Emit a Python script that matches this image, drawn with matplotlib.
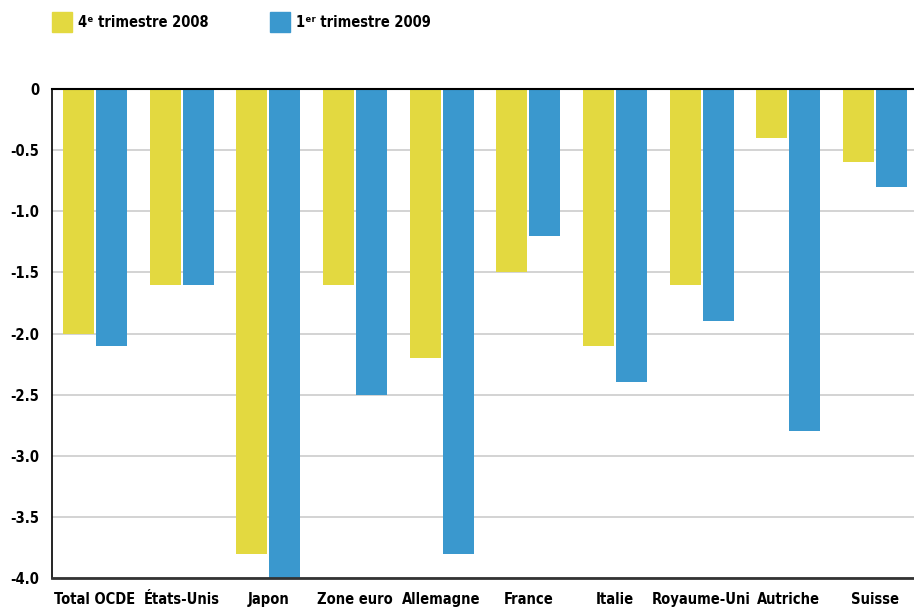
import numpy as np
import matplotlib.pyplot as plt
from matplotlib.patches import Patch

plt.rcParams['font.family'] = ['DejaVu Sans']
plt.rcParams['font.stretch'] = 'condensed'
plt.rcParams['font.weight'] = 'bold'

# données
pays = ['Total OCDE', 'États-Unis', 'Japon', 'Zone euro', 'Allemagne',
        'France', 'Italie', 'Royaume-Uni', 'Autriche', 'Suisse']
t4_2008 = [-2.0, -1.6, -3.8, -1.6, -2.2, -1.5, -2.1, -1.6, -0.4, -0.6]
t1_2009 = [-2.1, -1.6, -4.0, -2.5, -3.8, -1.2, -2.4, -1.9, -2.8, -0.8]
y_ticks = [0, -0.5, -1.0, -1.5, -2.0, -2.5, -3.0, -3.5, -4.0]
y_labels = ['0', '-0.5', '-1.0', '-1.5', '-2.0', '-2.5', '-3.0', '-3.5', '-4.0']
series = ['4ᵉ trimestre 2008', '1ᵉʳ trimestre 2009']

jaune = '#e3d940'
bleu = '#3a98ce'

fig = plt.figure(figsize=(9.14, 6.08), dpi=100)
ax = fig.add_axes([52 / 914, 30 / 608, 1 - 52 / 914, (578 - 89) / 608])

x = np.arange(len(pays))
w = 0.36
ax.bar(x - 0.19, t4_2008, width=w, color=jaune, zorder=2)
ax.bar(x + 0.19, t1_2009, width=w, color=bleu, zorder=2)

ax.set_ylim(-4.0, 0)
ax.set_xlim(-0.496, 9.45)
ax.set_yticks(y_ticks)
ax.set_yticklabels(y_labels, fontsize=10.5)
ax.set_xticks(x)
ax.set_xticklabels(pays, fontsize=10.5)
ax.tick_params(length=0)
ax.tick_params(axis='x', pad=10)
ax.tick_params(axis='y', pad=9)

ax.yaxis.grid(True, color='#cccccc', linewidth=1.2, zorder=0)
ax.set_axisbelow(True)

ax.spines['right'].set_visible(False)
ax.spines['top'].set_color('black')
ax.spines['top'].set_linewidth(1.5)
ax.spines['top'].set_zorder(3)
ax.spines['left'].set_color('black')
ax.spines['left'].set_linewidth(1.2)
ax.spines['bottom'].set_color('#333333')
ax.spines['bottom'].set_linewidth(2)

handles = [Patch(color=jaune), Patch(color=bleu)]
fig.legend(handles, series, loc='upper left', bbox_to_anchor=(52 / 914, 1 - 12 / 608),
           ncol=2, frameon=False, fontsize=10.5, handlelength=1.37, handleheight=1.75,
           handletextpad=0.4, columnspacing=4.2, borderpad=0, borderaxespad=0)

fig.savefig('out.png', dpi=100)
